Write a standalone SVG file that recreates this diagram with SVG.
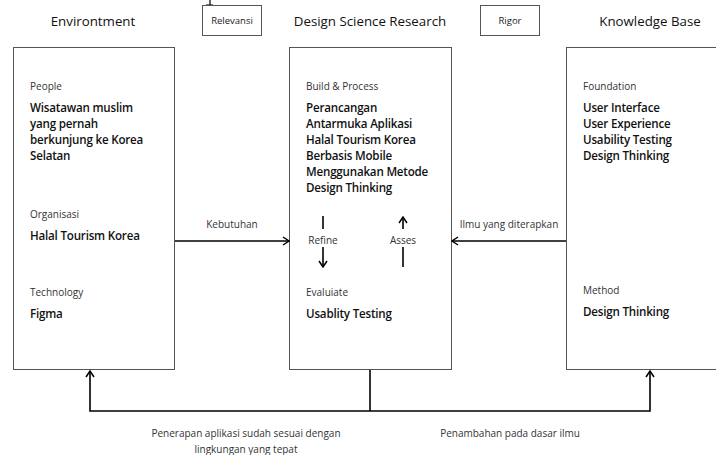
<svg xmlns="http://www.w3.org/2000/svg" width="716" height="455" viewBox="0 0 716 455">
<style>
text{font-family:"Open Sans","Noto Sans","Liberation Sans",sans-serif;fill:#111}
.title{font-size:13.3px}
.sm{font-size:10px;fill:#333}
.tag{font-size:9.5px;fill:#222}
.b{font-size:11.6px;font-weight:600;letter-spacing:-0.2px}
.box{fill:#fff;stroke:#555;stroke-width:1}
.ln{fill:none;stroke:#000;stroke-width:1.6}
</style>
<defs>
<marker id="ah" viewBox="0 0 10 10" refX="9" refY="5" markerWidth="10" markerHeight="10" markerUnits="userSpaceOnUse" orient="auto">
<path d="M3,1 L9,5 L3,9" fill="none" stroke="#000" stroke-width="1.5"/>
</marker>
</defs>
<path d="M210,0 V5 M206,5 H213" stroke="#000" stroke-width="1.2" fill="none"/>
<text class="title" x="93" y="26" text-anchor="middle">Environtment</text>
<text class="title" x="370" y="26" text-anchor="middle">Design Science Research</text>
<text class="title" x="650" y="26" text-anchor="middle">Knowledge Base</text>
<g id="relevansi"><rect class="box" x="202.5" y="5.5" width="59" height="30"/><text class="tag" x="232" y="24" text-anchor="middle">Relevansi</text></g>
<g id="rigor"><rect class="box" x="480.5" y="5.5" width="59" height="30"/><text class="tag" x="510" y="24" text-anchor="middle">Rigor</text></g>
<g id="environment">
<rect class="box" x="13.5" y="47.5" width="161" height="322"/>
<text class="sm" x="30" y="90">People</text>
<text class="b" x="30" y="112">Wisatawan muslim</text>
<text class="b" x="30" y="128">yang pernah</text>
<text class="b" x="30" y="144">berkunjung ke Korea</text>
<text class="b" x="30" y="160">Selatan</text>
<text class="sm" x="30" y="218">Organisasi</text>
<text class="b" x="30" y="240">Halal Tourism Korea</text>
<text class="sm" x="30" y="296">Technology</text>
<text class="b" x="30" y="318">Figma</text>
</g>
<g id="dsr">
<rect class="box" x="289.5" y="47.5" width="162" height="322"/>
<text class="sm" x="306" y="90">Build &amp; Process</text>
<text class="b" x="306" y="112">Perancangan</text>
<text class="b" x="306" y="128">Antarmuka Aplikasi</text>
<text class="b" x="306" y="144">Halal Tourism Korea</text>
<text class="b" x="306" y="160">Berbasis Mobile</text>
<text class="b" x="306" y="176">Menggunakan Metode</text>
<text class="b" x="306" y="192">Design Thinking</text>
<text class="sm" x="306" y="296">Evaluiate</text>
<text class="b" x="306" y="318">Usablity Testing</text>
<text class="sm" x="323" y="244" text-anchor="middle">Refine</text>
<text class="sm" x="403" y="244" text-anchor="middle">Asses</text>
</g>
<g id="knowledge">
<rect class="box" x="566.5" y="47.5" width="160" height="322"/>
<text class="sm" x="583" y="90">Foundation</text>
<text class="b" x="583" y="112">User Interface</text>
<text class="b" x="583" y="128">User Experience</text>
<text class="b" x="583" y="144">Usability Testing</text>
<text class="b" x="583" y="160">Design Thinking</text>
<text class="sm" x="583" y="294">Method</text>
<text class="b" x="583" y="316">Design Thinking</text>
</g>
<g id="connectors">
<path class="ln" d="M175,241 H289" marker-end="url(#ah)"/>
<text class="sm" x="232" y="228" text-anchor="middle">Kebutuhan</text>
<path class="ln" d="M566,241 H452" marker-end="url(#ah)"/>
<text class="sm" x="509" y="228" text-anchor="middle">Ilmu yang diterapkan</text>
<path class="ln" d="M323,216 V229"/>
<path class="ln" d="M323,247 V267" marker-end="url(#ah)"/>
<path class="ln" d="M403,229 V217" marker-end="url(#ah)"/>
<path class="ln" d="M403,247 V267"/>
<path class="ln" d="M370,370 V411"/>
<path class="ln" d="M370,411 H90 V371" marker-end="url(#ah)"/>
<path class="ln" d="M370,411 H650 V371" marker-end="url(#ah)"/>
<text class="sm" x="246" y="437" text-anchor="middle">Penerapan aplikasi sudah sesuai dengan</text>
<text class="sm" x="246" y="453" text-anchor="middle">lingkungan yang tepat</text>
<text class="sm" x="510" y="437" text-anchor="middle">Penambahan pada dasar ilmu</text>
</g>
</svg>
